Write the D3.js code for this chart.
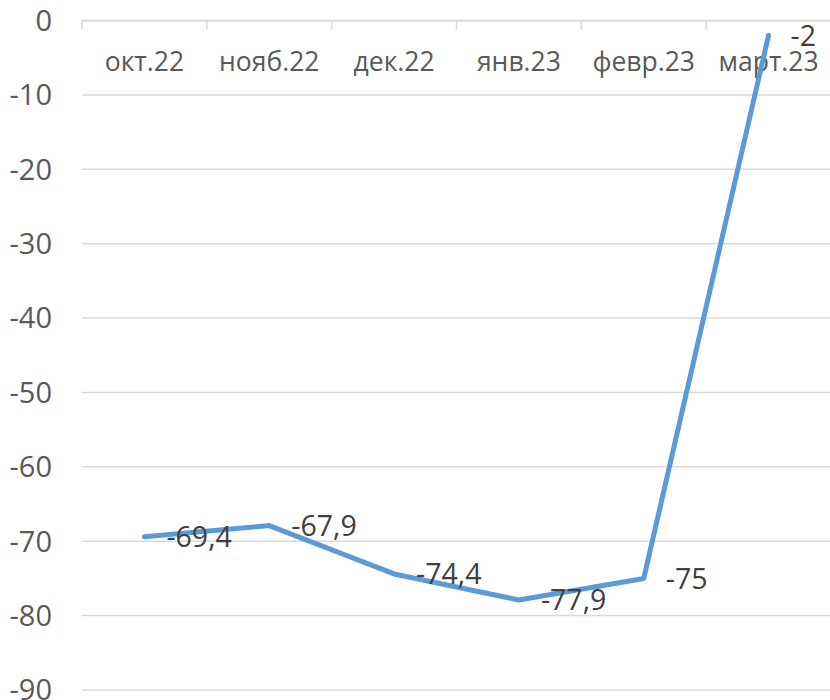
<!DOCTYPE html>
<html>
<head>
<meta charset="utf-8">
<script src="https://cdn.jsdelivr.net/npm/d3@7"></script>
<style>
  body { margin: 0; background: #fff; }
  text { font-family: "Open Sans", "Noto Sans", sans-serif; }
</style>
</head>
<body>
<div id="svg-area"></div>
<script>
var svgWidth = 830;
var svgHeight = 700;

// chart data
var months = ["окт.22", "нояб.22", "дек.22", "янв.23", "февр.23", "март.23"];
var values = [-69.4, -67.9, -74.4, -77.9, -75, -2];
var valueLabels = ["-69,4", "-67,9", "-74,4", "-77,9", "-75", "-2"];
var yTicks = [0, -10, -20, -30, -40, -50, -60, -70, -80, -90];

var margin = { top: 20.5, right: 0, bottom: 10, left: 82 };
var chartWidth = 831 - margin.left;
var chartHeight = 690 - margin.top;

var svg = d3.select("#svg-area").append("svg")
  .attr("width", svgWidth)
  .attr("height", svgHeight);

var chartGroup = svg.append("g")
  .attr("transform", `translate(${margin.left}, ${margin.top})`);

var xScale = d3.scaleBand()
  .domain(months)
  .range([0, chartWidth]);

var yScale = d3.scaleLinear()
  .domain([0, -90])
  .range([0, chartHeight]);

// gridlines
chartGroup.selectAll(".grid")
  .data(yTicks)
  .enter()
  .append("line")
  .attr("class", "grid")
  .attr("x1", 0)
  .attr("x2", chartWidth)
  .attr("y1", d => yScale(d))
  .attr("y2", d => yScale(d))
  .attr("stroke", "#d9d9d9")
  .attr("stroke-width", 1.5);

// y tick labels
chartGroup.selectAll(".ylab")
  .data(yTicks)
  .enter()
  .append("text")
  .attr("class", "ylab")
  .attr("x", -30)
  .attr("y", d => yScale(d))
  .attr("dy", "0.36em")
  .attr("text-anchor", "end")
  .style("font-size", "29px")
  .style("fill", "#595959")
  .text(d => d);

// category axis at zero, ticks pointing down
var xAxis = d3.axisBottom(xScale).tickSize(0).tickFormat("");
chartGroup.append("g")
  .attr("transform", `translate(0, ${yScale(0)})`)
  .call(xAxis)
  .call(g => g.select(".domain").attr("stroke", "#d9d9d9").attr("stroke-width", 1.5));

var boundaries = months.map(d => xScale(d)).concat([chartWidth]);
chartGroup.selectAll(".tickmark")
  .data(boundaries)
  .enter()
  .append("line")
  .attr("class", "tickmark")
  .attr("x1", d => d)
  .attr("x2", d => d)
  .attr("y1", yScale(0))
  .attr("y2", yScale(0) + 9)
  .attr("stroke", "#d9d9d9")
  .attr("stroke-width", 1.5);

chartGroup.selectAll(".xlab")
  .data(months)
  .enter()
  .append("text")
  .attr("class", "xlab")
  .attr("x", d => xScale(d) + xScale.bandwidth() / 2)
  .attr("y", yScale(0) + 50)
  .attr("text-anchor", "middle")
  .style("font-size", "26.5px")
  .style("fill", "#595959")
  .text(d => d);

// the line
var line = d3.line()
  .x((d, i) => xScale(months[i]) + xScale.bandwidth() / 2)
  .y(d => yScale(d));

chartGroup.append("path")
  .datum(values)
  .attr("d", line)
  .attr("fill", "none")
  .attr("stroke", "#5b9bd5")
  .attr("stroke-width", 5)
  .attr("stroke-linecap", "round")
  .attr("stroke-linejoin", "round");

// data labels, right of the points
chartGroup.selectAll(".dlab")
  .data(values)
  .enter()
  .append("text")
  .attr("class", "dlab")
  .attr("x", (d, i) => xScale(months[i]) + xScale.bandwidth() / 2 + 22)
  .attr("y", d => yScale(d))
  .attr("dy", "0.36em")
  .style("font-size", "28.5px")
  .style("fill", "#404040")
  .text((d, i) => valueLabels[i]);
</script>
</body>
</html>
